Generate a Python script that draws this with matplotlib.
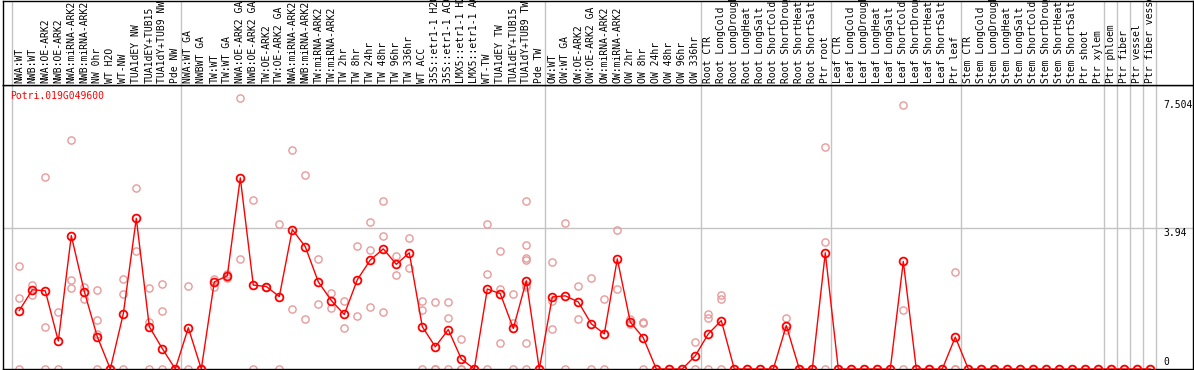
import matplotlib
matplotlib.use("Agg")
import matplotlib.pyplot as plt

gene_id = "Potri.019G049600"

samples = [
    "NWA:WT", "NWB:WT", "NWA:OE-ARK2", "NWB:OE-ARK2", "NWA:miRNA-ARK2",
    "NWB:miRNA-ARK2", "NW 0hr", "WT H2O", "WT-NW", "TUA1dEY NW",
    "TUA1dEY+TUB15", "TUA1dY+TUB9 NW", "Pde NW",
    "NWA:WT GA", "NWBWT GA", "TW:WT", "TW:WT GA", "NWA:OE-ARK2 GA",
    "NWB:OE-ARK2 GA", "TW:OE-ARK2", "TW:OE-ARK2 GA", "NWA:miRNA-ARK2",
    "NWB:miRNA-ARK2", "TW:miRNA-ARK2", "TW:miRNA-ARK2", "TW 2hr", "TW 8hr",
    "TW 24hr", "TW 48hr", "TW 96hr", "TW 336hr", "WT ACC",
    "35S::etr1-1 H2O", "35S::etr1-1 ACC", "LMX5::etr1-1 H2O", "LMX5::etr1-1 ACC",
    "WT-TW", "TUA1dEY TW", "TUA1dEY+TUB15", "TUA1dY+TUB9 TW", "Pde TW",
    "OW:WT", "OW:WT GA", "OW:OE-ARK2", "OW:OE-ARK2 GA", "OW:miRNA-ARK2",
    "OW:miRNA-ARK2", "OW 2hr", "OW 8hr", "OW 24hr", "OW 48hr", "OW 96hr",
    "OW 336hr",
    "Root CTR", "Root LongCold", "Root LongDrought", "Root LongHeat",
    "Root LongSalt", "Root ShortCold", "Root ShortDrought", "Root ShortHeat",
    "Root ShortSalt", "Ptr root",
    "Leaf CTR", "Leaf LongCold", "Leaf LongDrought", "Leaf LongHeat",
    "Leaf LongSalt", "Leaf ShortCold", "Leaf ShortDrought", "Leaf ShortHeat",
    "Leaf ShortSalt", "Ptr leaf",
    "Stem CTR", "Stem LongCold", "Stem LongDrought", "Stem LongHeat",
    "Stem LongSalt", "Stem ShortCold", "Stem ShortDrought", "Stem ShortHeat",
    "Stem ShortSalt", "Ptr shoot", "Ptr xylem",
    "Ptr phloem", "Ptr fiber", "Ptr vessel", "Ptr fiber vessel",
]

# number of samples in each block between the grey separators
group_sizes = [13, 28, 12, 10, 10, 11, 1, 1, 1, 1]

mean_expr = [
    1.63, 2.21, 2.18, 0.78, 3.72, 2.16, 0.90, 0, 1.54, 4.20, 1.18, 0.57, 0,
    1.15, 0, 2.43, 2.60, 5.33, 2.34, 2.30, 2.02, 3.89, 3.41, 2.43, 1.91, 1.52,
    2.49, 3.04, 3.35, 2.92, 3.24, 1.18, 0.62, 1.10, 0.28, 0, 2.23, 2.10, 1.13,
    2.46, 0,
    2.01, 2.04, 1.87, 1.26, 0.98, 3.07, 1.31, 0.87, 0, 0, 0, 0.37,
    0.98, 1.35, 0, 0, 0, 0, 1.21, 0, 0, 3.24,
    0, 0, 0, 0, 0, 3.00, 0, 0, 0, 0.89,
    0, 0, 0, 0, 0, 0, 0, 0, 0, 0, 0,
    0, 0, 0, 0,
]

replicates = [
    [2.87, 1.98, 0], [2.33, 2.06], [5.36, 1.17, 0], [1.59, 0],
    [6.39, 2.48, 2.25], [2.30, 1.95], [2.19, 1.38, 0.98, 0], [0],
    [2.51, 2.10, 0], [5.06, 3.29], [2.26, 1.30, 0], [2.37, 1.62, 0], [0],
    [2.32, 0], [0], [2.51, 2.29], [2.66, 2.55], [7.56, 3.08], [4.72, 0],
    [2.30, 2.28], [4.03, 0], [6.12, 1.68], [5.42, 1.40], [3.07, 1.80],
    [2.11, 1.70], [1.91, 1.13], [3.43, 1.48], [4.11, 3.32, 1.74],
    [4.69, 3.72, 1.59], [3.16, 2.63], [3.66, 2.82], [1.91, 1.65, 0],
    [1.87, 0, 0], [1.87, 1.42, 0], [0.84, 0, 0], [0], [4.03, 2.65, 0],
    [3.29, 2.23, 0.73], [2.10, 1.28, 0],
    [4.69, 3.46, 3.10, 3.03, 2.35, 2.28, 0.73, 0], [0],
    [2.99, 1.89, 1.12], [4.07, 0], [2.32, 1.40], [2.54, 0], [1.95, 0],
    [3.88, 2.23], [1.40, 1.26], [1.31, 1.28, 0], [0], [0], [0], [0.75, 0],
    [1.52, 1.42, 0], [2.07, 1.95, 0], [0], [0], [0], [0], [1.42, 1.10],
    [0], [0], [6.20, 3.54, 0],
    [0], [0], [0], [0], [0], [7.37, 1.65, 0], [0], [0], [0], [2.71, 0, 0],
    [0], [0], [0], [0], [0], [0], [0], [0], [0], [0], [0],
    [0], [0], [0], [0],
]

y_ticks = [0, 3.94, 7.504]

W, H = 1194, 370
fig = plt.figure(figsize=(W / 100, H / 100), dpi=100)
mono = "DejaVu Sans Mono"
grey = "#c4c4c4"
pink = "#e89a9a"

left, right = 2.5, 1192.5
ax = fig.add_axes([left / W, 1 / H, (right - left) / W, 284 / H])
ax_lab = fig.add_axes([left / W, 285 / H, (right - left) / W, 84.5 / H])

x0, dx = 19.3, 13.0
xlim = ((left - x0) / dx, (right - x0) / dx)
for a in (ax, ax_lab):
    a.set_xlim(*xlim)
    a.set_xticks([])
    a.set_yticks([])
    for s in a.spines.values():
        s.set_linewidth(1.0)
        s.set_color("black")
ax.set_ylim(0, 7.92)
ax_lab.set_ylim(0, 1)

# separators between sample blocks
bounds = [0]
for g in group_sizes:
    bounds.append(bounds[-1] + g)
for b in bounds:
    for a in (ax, ax_lab):
        a.axvline(b - 0.58, color=grey, lw=1.0, zorder=0)

ax.axhline(y_ticks[1], color=grey, lw=1.0, zorder=0)

xs = list(range(len(samples)))

# individual replicates
rx, ry = [], []
for i, reps in enumerate(replicates):
    for v in reps:
        rx.append(i)
        ry.append(v)
ax.plot(rx, ry, linestyle="none", marker="o", markersize=5.2,
        markerfacecolor="none", markeredgecolor=pink, markeredgewidth=1.0,
        zorder=2)

# mean expression
ax.plot(xs, mean_expr, color="red", lw=1.0, marker="o", markersize=5.6,
        markerfacecolor="none", markeredgecolor="red", markeredgewidth=1.3,
        zorder=3)

ax.text(7.5 / (right - left), 0.978, gene_id, transform=ax.transAxes,
        color="red", fontsize=7, family=mono, va="top", ha="left")

tx = (1163 - left) / (right - left)
tr = ax.get_yaxis_transform()
ax.text(tx, y_ticks[2], "7.504", transform=tr, fontsize=7, family=mono,
        ha="left", va="top")
ax.text(tx, y_ticks[1], "3.94", transform=tr, fontsize=7, family=mono,
        ha="left", va="top")
ax.text(tx, y_ticks[0] + 0.05, "0", transform=tr, fontsize=7, family=mono,
        ha="left", va="bottom")

lab_tr = ax_lab.get_xaxis_transform()
for i, name in enumerate(samples):
    ax_lab.text(i, 0.024, name, transform=lab_tr, rotation=90, fontsize=7,
                family=mono, ha="center", va="bottom", clip_on=False)

fig.savefig("out.png", dpi=100)
